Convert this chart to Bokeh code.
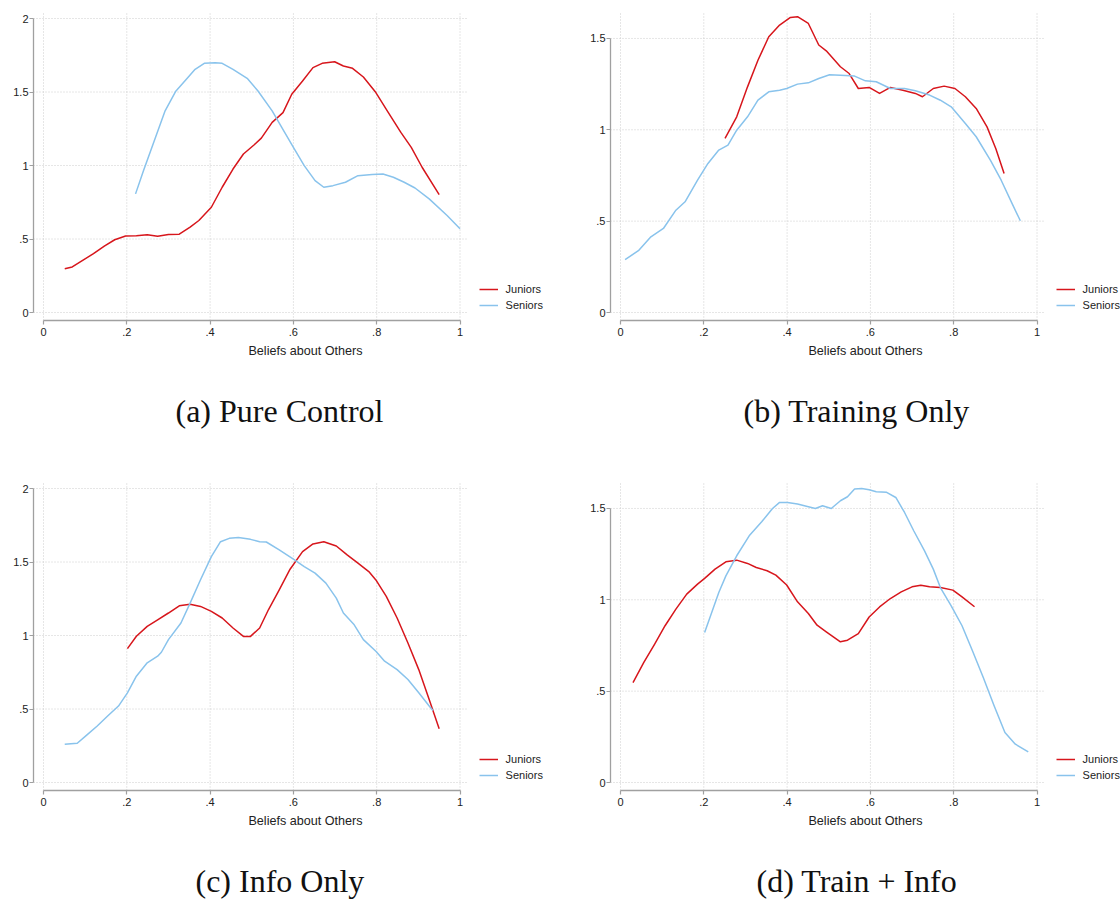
from bokeh.plotting import figure
from bokeh.models import Range1d, FixedTicker, CustomJSTickFormatter, Legend, LegendItem, Title
from bokeh.layouts import column, row
from bokeh.embed import file_html
from bokeh.resources import INLINE

# ---------------- data ----------------
captions = ["(a) Pure Control", "(b) Training Only", "(c) Info Only", "(d) Train + Info"]
series_names = ["Juniors", "Seniors"]
x_label = "Beliefs about Others"
x_ticks = [0, 0.2, 0.4, 0.6, 0.8, 1.0]
y_ticks_ac = [0, 0.5, 1.0, 1.5, 2.0]
y_ticks_bd = [0, 0.5, 1.0, 1.5]

a_jun_x = [.051, .069, .094, .12, .146, .171, .197, .223, .249, .274, .300, .326, .352, .373, .403, .429, .455, .48, .506, .523, .549, .575, .596, .622, .647, .669, .699, .72, .742, .768, .798, .828, .858, .883, .909, .95]
a_jun_y = [.298, .31, .355, .40, .452, .495, .52, .522, .529, .518, .531, .533, .581, .626, .716, .852, .976, 1.078, 1.141, 1.186, 1.293, 1.36, 1.485, 1.575, 1.666, 1.695, 1.706, 1.677, 1.661, 1.602, 1.496, 1.36, 1.225, 1.123, .988, .802]
a_sen_x = [.221, .240, .266, .292, .317, .343, .364, .386, .412, .429, .455, .489, .515, .549, .579, .600, .626, .652, .673, .695, .725, .755, .789, .815, .84, .866, .892, .926, .969, 1.0]
a_sen_y = [.807, .965, 1.168, 1.372, 1.503, 1.586, 1.654, 1.695, 1.699, 1.695, 1.654, 1.593, 1.507, 1.372, 1.225, 1.123, .999, .897, .852, .863, .886, .931, .938, .942, .92, .886, .847, .773, .66, .57]

b_jun_x = [.251, .279, .305, .330, .356, .382, .408, .425, .451, .476, .494, .528, .549, .571, .597, .622, .648, .678, .708, .725, .751, .777, .803, .828, .854, .88, .901, .921]
b_jun_y = [.953, 1.071, 1.235, 1.381, 1.509, 1.573, 1.615, 1.619, 1.582, 1.464, 1.432, 1.345, 1.308, 1.226, 1.232, 1.199, 1.232, 1.217, 1.199, 1.181, 1.226, 1.239, 1.226, 1.181, 1.117, 1.016, .898, .761]
b_sen_x = [.011, .043, .073, .103, .133, .155, .185, .21, .236, .258, .279, .305, .330, .356, .382, .399, .425, .451, .476, .502, .528, .562, .588, .614, .648, .682, .708, .742, .768, .794, .828, .854, .888, .914, .94, .96]
b_sen_y = [.290, .338, .414, .46, .56, .606, .724, .816, .889, .916, .998, 1.071, 1.162, 1.208, 1.217, 1.226, 1.25, 1.257, 1.281, 1.301, 1.299, 1.294, 1.268, 1.263, 1.226, 1.226, 1.214, 1.19, 1.162, 1.126, 1.035, .962, .834, .724, .597, .502]

c_jun_x = [.2015, .223, .249, .274, .300, .326, .352, .377, .403, .429, .455, .48, .497, .519, .54, .566, .592, .622, .647, .673, .703, .729, .755, .781, .798, .823, .849, .875, .901, .926, .95]
c_jun_y = [.911, .995, 1.062, 1.107, 1.153, 1.202, 1.213, 1.198, 1.164, 1.119, 1.051, .994, .994, 1.051, 1.175, 1.311, 1.451, 1.571, 1.623, 1.638, 1.609, 1.548, 1.492, 1.435, 1.378, 1.266, 1.119, .949, .768, .565, .366]
c_sen_x = [.051, .081, .103, .129, .154, .18, .2015, .223, .249, .274, .283, .3, .33, .352, .377, .403, .425, .446, .468, .497, .519, .535, .566, .6, .626, .652, .678, .703, .72, .746, .768, .798, .819, .849, .875, .901, .926, .935]
c_sen_y = [.26, .267, .321, .384, .452, .52, .61, .723, .814, .859, .886, .972, 1.085, 1.22, 1.379, 1.537, 1.638, 1.661, 1.666, 1.654, 1.638, 1.636, 1.582, 1.519, 1.469, 1.424, 1.356, 1.254, 1.153, 1.073, .972, .893, .825, .768, .701, .61, .52, .49]

d_jun_x = [.030, .056, .082, .107, .133, .159, .185, .202, .227, .253, .279, .305, .326, .352, .373, .399, .425, .451, .472, .494, .511, .528, .545, .571, .597, .622, .648, .674, .7, .721, .742, .768, .798, .820, .85]
d_jun_y = [.547, .657, .757, .858, .949, 1.031, 1.086, 1.117, 1.168, 1.208, 1.217, 1.199, 1.177, 1.159, 1.135, 1.081, .989, .925, .861, .825, .797, .77, .779, .815, .906, .961, 1.007, 1.043, 1.071, 1.08, 1.071, 1.067, 1.053, 1.016, .962]
d_sen_x = [.202, .219, .236, .253, .279, .309, .339, .365, .382, .401, .425, .451, .468, .485, .506, .528, .545, .562, .579, .597, .614, .639, .661, .682, .704, .730, .751, .768, .794, .82, .845, .871, .897, .923, .948, .979]
d_sen_y = [.821, .931, 1.04, 1.131, 1.241, 1.350, 1.427, 1.5, 1.533, 1.533, 1.524, 1.509, 1.5, 1.515, 1.5, 1.542, 1.564, 1.606, 1.609, 1.602, 1.591, 1.588, 1.56, 1.478, 1.378, 1.268, 1.168, 1.067, .967, .858, .721, .575, .42, .274, .21, .168]

# ---------------- styling ----------------
RED = "#d7161c"
BLUE = "#89c3ec"
AXIS = "#a0a0a0"
GRID = "#cccccc"
SANS = "Liberation Sans"
SERIF = "Liberation Serif"
PX_PER_X = 416.5          # horizontal scale (px per unit)
X0_OFF = 10               # px between y-axis line and x = 0
GRID_RIGHT = 1.017        # gridlines end a little past x = 1
FRAME_H = 308
MB_LEFT = 33
MB_TOP = 12

fmt = CustomJSTickFormatter(code="""
if (Math.abs(tick) < 1e-9) return "0";
let s = String(Math.round(tick * 10) / 10);
if (s.startsWith("0.")) s = s.slice(1);
return s;
""")


def make_panel(jx, jy, sx, sy, yticks, caption, cap_offset, width, height, cap_gap):
    ymax = yticks[-1]
    ppu = 147.0 if ymax >= 2 else 182.7
    ystart = -8.0 / ppu
    yend = ystart + FRAME_H / ppu
    frame_w = width - MB_LEFT
    xstart = -X0_OFF / PX_PER_X
    xend = xstart + frame_w / PX_PER_X
    mb_bottom = height - MB_TOP - FRAME_H
    p = figure(width=width, height=height,
               x_range=Range1d(xstart, xend), y_range=Range1d(ystart, yend),
               output_backend="svg", toolbar_location=None,
               min_border_left=MB_LEFT, min_border_right=0,
               min_border_top=MB_TOP, min_border_bottom=mb_bottom,
               outline_line_color=None, background_fill_color="white",
               border_fill_color="white")
    p.grid.visible = False

    # dotted gridlines at the tick positions
    p.segment(x0=[xstart] * len(yticks), y0=yticks, x1=[GRID_RIGHT] * len(yticks), y1=yticks,
              line_color=GRID, line_dash="1 2", line_width=1)
    p.segment(x0=x_ticks, y0=[ystart] * len(x_ticks), x1=x_ticks, y1=[yend] * len(x_ticks),
              line_color=GRID, line_dash="1 2", line_width=1)

    rj = p.line(jx, jy, line_color=RED, line_width=1.5, line_join="round")
    rs = p.line(sx, sy, line_color=BLUE, line_width=1.5, line_join="round")

    for ax in (p.xaxis[0], p.yaxis[0]):
        ax.axis_line_color = AXIS
        ax.axis_line_width = 1.3
        ax.major_tick_line_color = AXIS
        ax.major_tick_line_width = 1.2
        ax.major_tick_out = 4
        ax.major_tick_in = 0
        ax.minor_tick_line_color = None
        ax.major_label_text_font = SANS
        ax.major_label_text_font_size = "11px"
        ax.major_label_text_color = "#222222"
        ax.formatter = fmt
    p.yaxis[0].major_label_standoff = 1
    p.xaxis[0].major_label_standoff = 3
    p.xaxis[0].ticker = FixedTicker(ticks=x_ticks)
    p.yaxis[0].ticker = FixedTicker(ticks=yticks)
    p.xaxis[0].bounds = (0, 1)
    p.yaxis[0].bounds = (0, ymax)
    p.yaxis[0].major_label_orientation = "horizontal"
    p.xaxis[0].axis_label = x_label
    p.xaxis[0].axis_label_text_font = SANS
    p.xaxis[0].axis_label_text_font_style = "normal"
    p.xaxis[0].axis_label_text_font_size = "12.6px"
    p.xaxis[0].axis_label_text_color = "#222222"
    p.xaxis[0].axis_label_standoff = 5

    legend = Legend(items=[LegendItem(label=series_names[0], renderers=[rj]),
                           LegendItem(label=series_names[1], renderers=[rs])],
                    location=(X0_OFF + GRID_RIGHT * PX_PER_X + 12, 7),
                    orientation="vertical",
                    padding=0, margin=0, spacing=0,
                    glyph_width=19, glyph_height=16, label_height=16,
                    label_standoff=8, label_text_font=SANS,
                    label_text_font_size="11px", label_text_color="#222222",
                    border_line_alpha=0, background_fill_alpha=0)
    p.add_layout(legend, "center")

    spacer = Title(text=" ", text_font_size="1px", standoff=cap_gap)
    p.add_layout(spacer, "below")
    t = Title(text=caption, align="left", offset=cap_offset, text_font=SERIF,
              text_font_size="32px", text_font_style="normal",
              text_color="#111111", standoff=0)
    p.add_layout(t, "below")
    return p


W_LEFT = 577
W_RIGHT = 1120 - W_LEFT
H_TOP = 470
H_BOT = 429
CAP_GAP = 27

pa = make_panel(a_jun_x, a_jun_y, a_sen_x, a_sen_y, y_ticks_ac, captions[0], 142, W_LEFT, H_TOP, CAP_GAP)
pb = make_panel(b_jun_x, b_jun_y, b_sen_x, b_sen_y, y_ticks_bd, captions[1], 133, W_RIGHT, H_TOP, CAP_GAP)
pc = make_panel(c_jun_x, c_jun_y, c_sen_x, c_sen_y, y_ticks_ac, captions[2], 162, W_LEFT, H_BOT, CAP_GAP)
pd = make_panel(d_jun_x, d_jun_y, d_sen_x, d_sen_y, y_ticks_bd, captions[3], 146, W_RIGHT, H_BOT, CAP_GAP)

layout = column(row(pa, pb, spacing=0), row(pc, pd, spacing=0), spacing=0)
open("out.html", "w").write(file_html(layout, INLINE))
